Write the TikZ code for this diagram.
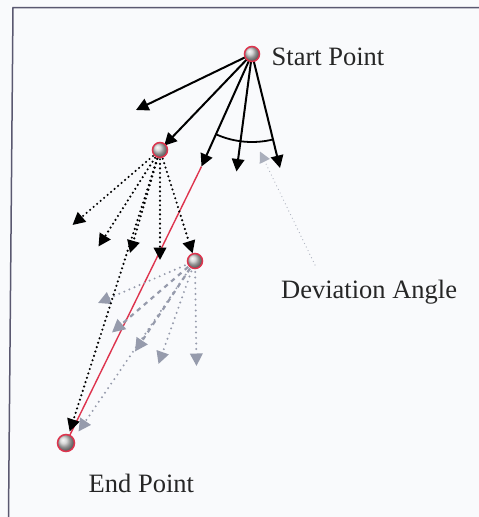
\documentclass[tikz,border=0pt]{standalone}
\usepackage{fontspec}
\setmainfont{Liberation Serif}
\usetikzlibrary{arrows.meta}
\definecolor{bg}{RGB}{249,250,252}
\definecolor{frame}{RGB}{90,88,112}
\definecolor{ptred}{RGB}{222,52,78}
\definecolor{gr}{RGB}{150,155,172}
\definecolor{grl}{RGB}{170,175,188}
\tikzset{
  pt/.style={circle, draw=ptred, line width=1.5pt, minimum size=15pt, inner sep=0pt, ball color=gray!40},
  blk/.style={line width=2pt, -{Triangle[length=12.5pt,width=12.5pt]}},
  dotblk/.style={line width=2.4pt, dash pattern=on 0pt off 4.6pt, line cap=round, -{Triangle[length=12.5pt,width=12.5pt]}},
  grdot/.style={gr, line width=2.2pt, dash pattern=on 0pt off 5.5pt, line cap=round, -{Triangle[length=12.5pt,width=12.5pt]}},
  grdash/.style={gr, line width=2.2pt, dash pattern=on 4.5pt off 4.5pt, -{Triangle[length=13pt,width=13pt]}},
  lbl/.style={font=\fontsize{26.5}{30}\selectfont, text=black!85, inner sep=0pt}
}
\begin{document}
\begin{tikzpicture}[x=1pt,y=-1pt]
\fill[bg] (0,0) rectangle (479,517);
\useasboundingbox (0,0) rectangle (479,517);
\draw[frame, line width=1.5pt] (8.5,517) -- (13,7.5) -- (479,7.5);

% points
\coordinate (Sc) at (252,54);
\coordinate (N1c) at (160,150);
\coordinate (N2c) at (195,261);
\coordinate (Ec) at (66,443);

% tips
\coordinate (t1) at (136,110);
\coordinate (t3) at (201.5,166.5);
\coordinate (t4) at (236.5,171.5);
\coordinate (t5) at (280,168);
\coordinate (a) at (72.5,225);
\coordinate (b) at (98.5,246.5);
\coordinate (c) at (130,253);
\coordinate (d) at (160,260);
\coordinate (g) at (98,303);
\coordinate (h) at (112,332.5);
\coordinate (i) at (135,351.5);
\coordinate (j) at (158.5,364);
\coordinate (k) at (196.5,366);
\coordinate (l) at (78.5,431.5);
\coordinate (dvs) at (315,265);
\coordinate (dvt) at (260,151.5);

% red line
\draw[ptred, line width=1.4pt] (t3) -- (Ec);

% gray dashed arrows from N2
\draw[grdot] (N2c) -- (g);
\draw[grdash] (N2c) -- (h);
\draw[grdash] (N2c) -- (i);
\draw[grdot] (N2c) -- (j);
\draw[grdot] (N2c) -- (k);
\draw[grdot] (N2c) -- (l);

% black dotted arrows from N1
\draw[dotblk] (N1c) -- (a);
\draw[dotblk] (N1c) -- (b);
\draw[dotblk] (N1c) -- (c);
\draw[dotblk] (N1c) -- (d);
\draw[dotblk, shorten >=8pt] (N1c) -- (N2c);
\draw[dotblk, shorten >=12pt] (N1c) -- (Ec);

% black solid arrows from S
\draw[blk] (Sc) -- (t1);
\draw[blk, shorten >=6pt] (Sc) -- (N1c);
\draw[blk] (Sc) -- (t3);
\draw[blk] (Sc) -- (t4);
\draw[blk] (Sc) -- (t5);

% deviation angle arc
\draw[line width=1.8pt] ([shift={(114:88)}]Sc) arc[start angle=114, end angle=76, radius=88];

% deviation angle pointer
\draw[grl, line width=1.2pt, dash pattern=on 0pt off 4pt, line cap=round, -{Triangle[length=11pt,width=11pt]}] (dvs) -- (dvt);

% point nodes
\node[pt] (S) at (Sc) {};
\node[pt] (N1) at (N1c) {};
\node[pt] (N2) at (N2c) {};
\node[pt, minimum size=17pt] (E) at (Ec) {};

% labels
\node[lbl, anchor=base west] (ls) at (271.5,65.5) {Start Point};
\node[lbl, anchor=base west] (ld) at (281,298.5) {Deviation Angle};
\node[lbl, anchor=base west] (le) at (88.5,492.5) {End Point};
\end{tikzpicture}
\end{document}
